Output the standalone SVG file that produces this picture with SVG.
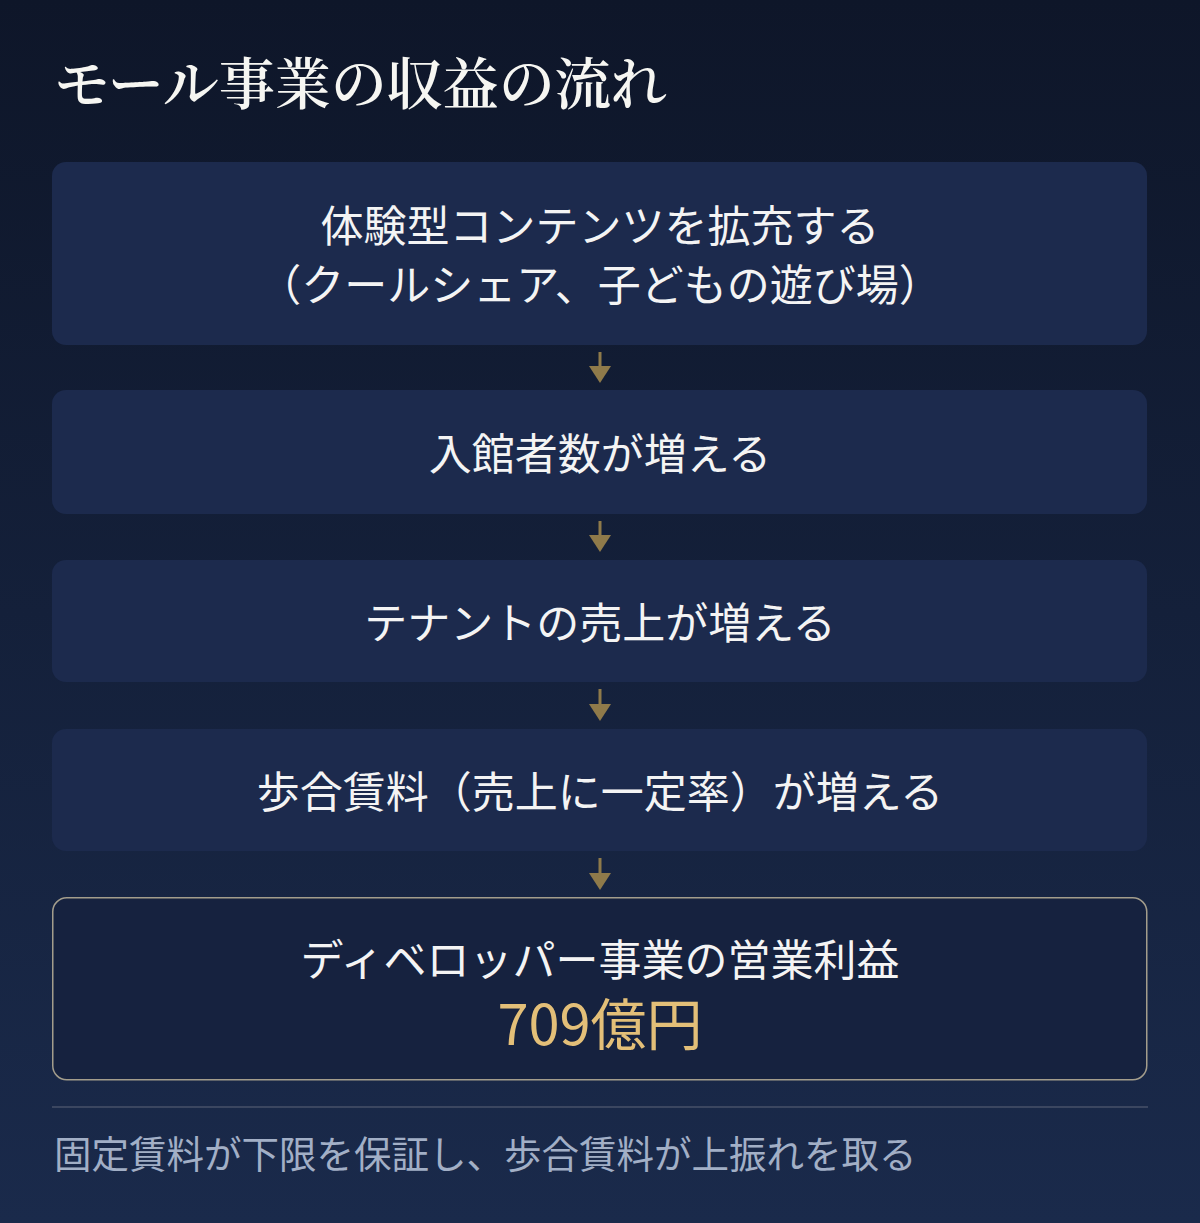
<svg xmlns="http://www.w3.org/2000/svg" width="1200" height="1223" viewBox="0 0 1200 1223">
  <defs>
    <linearGradient id="bg" x1="0" y1="0" x2="0" y2="1">
      <stop offset="0" stop-color="#0e1629"/>
      <stop offset="1" stop-color="#1a2a4b"/>
    </linearGradient>
    <style>
      .box { fill: #1c2a4d; }
      .final { fill: #16223f; stroke: #a39d8c; stroke-width: 1.5; }
      .t { font-family: "Noto Sans CJK JP", "Noto Sans", sans-serif; font-size: 43px; fill: #f4f4f4; text-anchor: middle; }
      .title { font-family: "Noto Serif CJK JP", "Noto Sans CJK JP", serif; font-size: 56px; font-weight: 600; fill: #f6f6f2; }
      .num { font-family: "Noto Sans CJK JP", "Noto Sans", sans-serif; font-size: 56px; fill: #e3bf78; text-anchor: middle; }
      .note { font-family: "Noto Sans CJK JP", "Noto Sans", sans-serif; font-size: 37.5px; fill: #a2afc6; }
      .shaft { stroke: #8f7a4a; stroke-width: 3; }
      .head { fill: #8f7a4a; }
    </style>
  </defs>
  <rect x="0" y="0" width="1200" height="1223" fill="url(#bg)"/>

  <text class="title" x="54" y="104">モール事業の収益の流れ</text>

  <g id="connectors">
    <line class="shaft" x1="600" y1="352" x2="600" y2="368"/>
    <polygon class="head" points="589,366 611,366 600,383"/>
    <line class="shaft" x1="600" y1="521" x2="600" y2="537"/>
    <polygon class="head" points="589,535 611,535 600,552"/>
    <line class="shaft" x1="600" y1="689" x2="600" y2="705"/>
    <polygon class="head" points="589,704 611,704 600,721"/>
    <line class="shaft" x1="600" y1="858" x2="600" y2="874"/>
    <polygon class="head" points="589,873 611,873 600,890"/>
  </g>

  <g id="node1">
    <rect class="box" x="52" y="162" width="1095" height="183" rx="14"/>
    <text class="t" x="600" y="242">体験型コンテンツを拡充する</text>
    <text class="t" x="600" y="301">（クールシェア、子どもの遊び場）</text>
  </g>
  <g id="node2">
    <rect class="box" x="52" y="390" width="1095" height="124" rx="14"/>
    <text class="t" x="600" y="470">入館者数が増える</text>
  </g>
  <g id="node3">
    <rect class="box" x="52" y="560" width="1095" height="122" rx="14"/>
    <text class="t" x="600" y="639">テナントの売上が増える</text>
  </g>
  <g id="node4">
    <rect class="box" x="52" y="729" width="1095" height="122" rx="14"/>
    <text class="t" x="600" y="808">歩合賃料（売上に一定率）が増える</text>
  </g>
  <g id="node5">
    <rect class="final" x="52.75" y="897.75" width="1094" height="182" rx="14"/>
    <text class="t" x="600" y="976">ディベロッパー事業の営業利益</text>
    <text class="num" x="600" y="1045">709億円</text>
  </g>

  <line x1="52" y1="1107" x2="1148" y2="1107" stroke="#3b4660" stroke-width="2"/>
  <text class="note" x="54" y="1168">固定賃料が下限を保証し、歩合賃料が上振れを取る</text>
</svg>
